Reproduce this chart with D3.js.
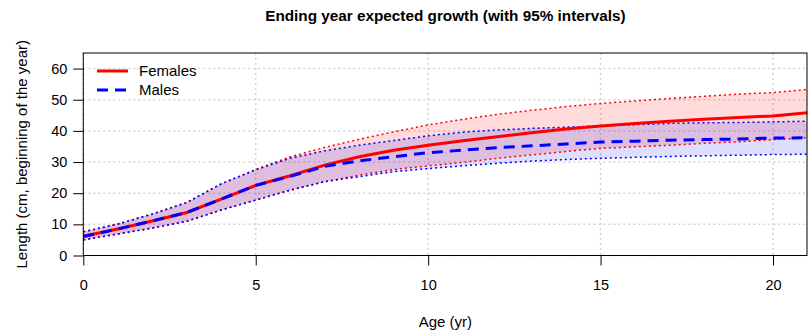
<!DOCTYPE html>
<html><head><meta charset="utf-8">
<script src="https://cdn.jsdelivr.net/npm/d3@7"></script>
<style>body{margin:0;background:#fff}text{font-family:"Liberation Sans",Arial,sans-serif}</style>
</head><body><svg id="c" width="808" height="334"></svg>
<script>
const ages = [0,1,2,3,4,5,6,7,8,9,10,11,12,13,14,15,16,17,18,19,20,21];
const femaleMean  = [6.2,8.5,11.1,13.8,18.1,22.5,25.6,29.0,31.7,33.8,35.4,36.8,38.1,39.4,40.6,41.6,42.4,43.1,43.7,44.3,44.8,45.8];
const femaleUpper = [7.6,10.1,13.3,17.0,23.0,27.6,31.7,34.7,37.3,39.7,41.9,43.7,45.3,46.6,47.8,48.8,49.6,50.4,51.1,51.8,52.3,53.3];
const femaleLower = [5.0,6.9,8.8,11.0,14.6,17.8,21.0,23.7,25.8,27.6,28.8,29.9,31.2,32.3,33.4,34.4,34.9,35.4,36.0,36.5,37.2,37.8];
const maleMean    = [6.1,8.5,11.1,13.8,18.1,22.5,25.4,28.6,30.4,31.7,33.0,33.8,34.6,35.2,35.8,36.4,36.7,37.0,37.2,37.4,37.7,37.8];
const maleUpper   = [7.6,10.1,13.3,17.0,23.0,27.5,31.2,33.6,35.4,36.9,38.4,39.6,40.3,40.8,41.2,41.6,42.0,42.4,42.6,42.7,42.9,43.1];
const maleLower   = [5.0,6.9,8.8,11.0,14.6,17.8,21.0,23.7,25.3,26.9,27.9,28.8,29.6,30.3,30.8,31.2,31.5,31.8,32.0,32.2,32.4,32.5];
const xTicks = [0,5,10,15,20];
const yTicks = [0,10,20,30,40,50,60];
const seriesNames = ["Females","Males"];

const svg = d3.select("#c");
const L = 83.3, R = 807.5, T = 53, B = 255.5;
const x = d3.scaleLinear().domain([0,21]).range([L,R]);
const y = d3.scaleLinear().domain([0,65]).range([B,T]);

// grid
svg.append("g").selectAll("line").data(xTicks).join("line")
  .attr("x1",d=>x(d)).attr("x2",d=>x(d)).attr("y1",T).attr("y2",B)
  .attr("stroke","#d3d3d3").attr("stroke-width",1.5).attr("stroke-dasharray","2,3");
svg.append("g").selectAll("line").data(yTicks).join("line")
  .attr("x1",L).attr("x2",R).attr("y1",d=>y(d)).attr("y2",d=>y(d))
  .attr("stroke","#d3d3d3").attr("stroke-width",1.5).attr("stroke-dasharray","2,3");

svg.append("clipPath").attr("id","pc").append("rect")
  .attr("x",L).attr("y",T).attr("width",R-L).attr("height",B-T);
const g = svg.append("g").attr("clip-path","url(#pc)");

function band(up, lo){
  return d3.area().x((d,i)=>x(ages[i])).y0((d,i)=>y(lo[i])).y1((d,i)=>y(up[i]))(ages);
}
function ln(v){ return d3.line().x((d,i)=>x(ages[i])).y((d,i)=>y(v[i]))(ages); }

g.append("path").attr("d",band(femaleUpper,femaleLower)).attr("fill","rgba(255,0,0,0.14)");
g.append("path").attr("d",band(maleUpper,maleLower)).attr("fill","rgba(0,0,255,0.13)");

[[femaleUpper,"#ff0000"],[femaleLower,"#ff0000"],[maleUpper,"#0000ff"],[maleLower,"#0000ff"]].forEach(([v,c])=>{
  g.append("path").attr("d",ln(v)).attr("fill","none").attr("stroke",c)
   .attr("stroke-width",1.5).attr("stroke-dasharray","2,3");
});
g.append("path").attr("d",ln(femaleMean)).attr("fill","none").attr("stroke","#ff0000").attr("stroke-width",3);
g.append("path").attr("d",ln(maleMean)).attr("fill","none").attr("stroke","#0000ff").attr("stroke-width",3).attr("stroke-dasharray","11,7");

// box
svg.append("rect").attr("x",L).attr("y",T).attr("width",R-L-0.5).attr("height",B-T)
  .attr("fill","none").attr("stroke","#000").attr("stroke-width",1);

// axes
const xa = svg.append("g").attr("transform",`translate(0,${B})`)
  .call(d3.axisBottom(x).tickValues(xTicks).tickSize(10).tickPadding(14).tickFormat(d3.format("d")));
xa.select(".domain").remove();
const ya = svg.append("g").attr("transform",`translate(${L},0)`)
  .call(d3.axisLeft(y).tickValues(yTicks).tickSize(10).tickPadding(6).tickFormat(d3.format("d")));
ya.select(".domain").remove();
svg.selectAll(".tick text").attr("font-size",14.5).attr("fill","#000").attr("font-family","Liberation Sans, Arial, sans-serif");
svg.selectAll(".tick line").attr("stroke","#000");

svg.append("text").attr("x",(L+R)/2).attr("y",327).attr("text-anchor","middle").attr("font-size",15).text("Age (yr)");
svg.append("text").attr("transform",`translate(27,${(T+B)/2}) rotate(-90)`).attr("text-anchor","middle").attr("font-size",15).text("Length (cm, beginning of the year)");
svg.append("text").attr("x",(L+R)/2).attr("y",21).attr("text-anchor","middle").attr("font-size",15.3).attr("font-weight","bold").text("Ending year expected growth (with 95% intervals)");

// legend
const leg = svg.append("g");
const legStyles = [{c:"#ff0000",dash:null},{c:"#0000ff",dash:"11,7"}];
seriesNames.forEach((n,i)=>{
  const yy = 71 + i*19;
  leg.append("line").attr("x1",97).attr("x2",128).attr("y1",yy).attr("y2",yy)
    .attr("stroke",legStyles[i].c).attr("stroke-width",3).attr("stroke-dasharray",legStyles[i].dash);
  leg.append("text").attr("x",139).attr("y",yy+5).attr("font-size",15).text(n);
});
</script></body></html>
